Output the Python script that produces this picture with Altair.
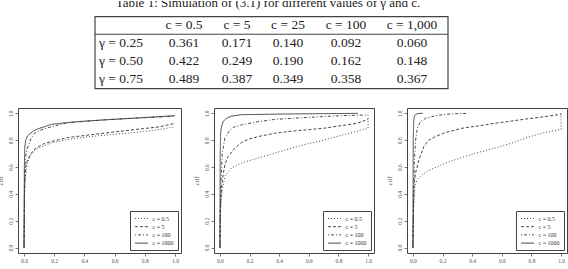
import altair as alt
import pandas as pd

# ---------------- table values ----------------
caption = "Table 1: Simulation of (3.1) for different values of γ and c."
col_labels = ["", "c = 0.5", "c = 5", "c = 25", "c = 100", "c = 1,000"]
row_labels = ["γ = 0.25", "γ = 0.50", "γ = 0.75"]
sim_g025 = [0.361, 0.171, 0.140, 0.092, 0.060]
sim_g050 = [0.422, 0.249, 0.190, 0.162, 0.148]
sim_g075 = [0.489, 0.387, 0.349, 0.358, 0.367]

# ---------------- cdf curves ----------------
series = ["c = 0.5", "c = 5", "c = 100", "c = 1000"]

# left panel
p1_x_05 = [0, 0.003, 0.006, 0.011, 0.022, 0.045, 0.067, 0.10, 0.134, 0.18, 0.29, 0.40, 0.51, 0.74, 0.90, 1.0]
p1_y_05 = [0, 0.38, 0.48, 0.55, 0.63, 0.69, 0.72, 0.745, 0.76, 0.78, 0.805, 0.822, 0.835, 0.858, 0.88, 0.90]
p1_x_5 = [0, 0.003, 0.006, 0.011, 0.022, 0.045, 0.067, 0.10, 0.134, 0.18, 0.29, 0.40, 0.51, 0.74, 0.90, 1.0]
p1_y_5 = [0, 0.40, 0.52, 0.60, 0.65, 0.70, 0.73, 0.755, 0.775, 0.79, 0.82, 0.835, 0.85, 0.88, 0.90, 0.926]
p1_x_100 = [0, 0.003, 0.006, 0.011, 0.022, 0.045, 0.067, 0.10, 0.134, 0.18, 0.29, 0.40, 0.51, 0.74, 1.0]
p1_y_100 = [0, 0.45, 0.60, 0.68, 0.74, 0.81, 0.85, 0.87, 0.885, 0.90, 0.93, 0.94, 0.95, 0.965, 0.978]
p1_x_1000 = [0, 0.002, 0.005, 0.011, 0.022, 0.045, 0.067, 0.10, 0.134, 0.18, 0.29, 0.40, 0.51, 0.74, 1.0]
p1_y_1000 = [0, 0.60, 0.75, 0.80, 0.83, 0.855, 0.872, 0.888, 0.90, 0.918, 0.932, 0.942, 0.95, 0.965, 0.983]

# middle panel
p2_x_05 = [0, 0.003, 0.007, 0.016, 0.033, 0.078, 0.145, 0.257, 0.37, 0.48, 0.59, 0.70, 0.815, 1.0, 1.0]
p2_y_05 = [0, 0.25, 0.33, 0.43, 0.53, 0.593, 0.63, 0.667, 0.704, 0.74, 0.773, 0.80, 0.835, 0.889, 0.985]
p2_x_5 = [0, 0.003, 0.007, 0.016, 0.033, 0.056, 0.10, 0.145, 0.20, 0.257, 0.37, 0.48, 0.70, 0.926, 1.0]
p2_y_5 = [0, 0.28, 0.38, 0.506, 0.617, 0.68, 0.74, 0.783, 0.81, 0.827, 0.852, 0.867, 0.889, 0.926, 0.955]
p2_x_100 = [0, 0.003, 0.007, 0.016, 0.033, 0.067, 0.10, 0.145, 0.257, 0.37, 0.59, 0.815, 1.0]
p2_y_100 = [0, 0.35, 0.50, 0.70, 0.815, 0.877, 0.90, 0.914, 0.938, 0.955, 0.97, 0.983, 0.988]
p2_x_1000 = [0, 0.002, 0.005, 0.01, 0.022, 0.045, 0.078, 0.145, 0.30, 0.50, 0.70, 0.93]
p2_y_1000 = [0, 0.70, 0.86, 0.90, 0.94, 0.963, 0.98, 0.99, 0.993, 0.996, 0.998, 1.0]

# right panel
p3_x_05 = [0, 0.004, 0.013, 0.029, 0.0625, 0.107, 0.219, 0.33, 0.44, 0.55, 0.665, 0.777, 0.888, 1.0, 1.0]
p3_y_05 = [0, 0.30, 0.457, 0.506, 0.543, 0.575, 0.63, 0.672, 0.709, 0.741, 0.778, 0.822, 0.857, 0.881, 1.0]
p3_x_5 = [0, 0.004, 0.0067, 0.018, 0.04, 0.074, 0.107, 0.163, 0.219, 0.33, 0.44, 0.55, 0.665, 0.777, 0.888, 1.0]
p3_y_5 = [0, 0.30, 0.457, 0.556, 0.654, 0.753, 0.802, 0.832, 0.857, 0.889, 0.906, 0.926, 0.943, 0.96, 0.975, 0.993]
p3_x_100 = [0, 0.0045, 0.009, 0.018, 0.029, 0.051, 0.085, 0.152, 0.219, 0.30, 0.37]
p3_y_100 = [0, 0.38, 0.63, 0.80, 0.89, 0.938, 0.963, 0.983, 0.993, 0.998, 1.0]
p3_x_1000 = [0, 0.002, 0.005, 0.009, 0.013, 0.02, 0.03, 0.045, 0.067]
p3_y_1000 = [0, 0.80, 0.94, 0.97, 0.985, 0.993, 0.998, 1.0, 1.0]

axis_ticks = [0.0, 0.2, 0.4, 0.6, 0.8, 1.0]
dash_styles = [[1, 2], [3, 2], [1, 2, 3, 2], [1, 0]]

SERIF = "Liberation Serif"
INK = "#333333"


def curves_frame(pairs):
    rows = []
    for name, (xs, ys) in zip(series, pairs):
        for i, (xv, yv) in enumerate(zip(xs, ys)):
            rows.append({"series": name, "i": i, "x": xv, "y": yv})
    return pd.DataFrame(rows)


def panel(pairs, width):
    df = curves_frame(pairs)
    return alt.Chart(df).mark_line(color=INK, strokeWidth=0.9).encode(
        x=alt.X("x:Q",
                scale=alt.Scale(domain=[-0.04, 1.04], nice=False, zero=False),
                axis=alt.Axis(values=axis_ticks, format=".1f", title="")),
        y=alt.Y("y:Q",
                scale=alt.Scale(domain=[-0.04, 1.04], nice=False, zero=False),
                axis=alt.Axis(values=axis_ticks, format=".1f", title="cdf",
                              labelAngle=270, labelAlign="center",
                              labelBaseline="bottom")),
        strokeDash=alt.StrokeDash("series:N",
                                  scale=alt.Scale(domain=series, range=dash_styles),
                                  legend=alt.Legend(title=None)),
        order=alt.Order("i:Q"),
    ).properties(width=width, height=145)


p1 = panel([(p1_x_05, p1_y_05), (p1_x_5, p1_y_5), (p1_x_100, p1_y_100), (p1_x_1000, p1_y_1000)], 163)
p2 = panel([(p2_x_05, p2_y_05), (p2_x_5, p2_y_5), (p2_x_100, p2_y_100), (p2_x_1000, p2_y_1000)], 160)
p3 = panel([(p3_x_05, p3_y_05), (p3_x_5, p3_y_5), (p3_x_100, p3_y_100), (p3_x_1000, p3_y_1000)], 160)

panels = alt.hconcat(p1, p2, p3, spacing=33, bounds="flush") \
    .resolve_scale(strokeDash="independent") \
    .resolve_legend(strokeDash="independent")

# ---------------- table ----------------
row_keys = ["head", "g025", "g050", "g075"]
cells = []
for j, lab in enumerate(col_labels):
    cells.append({"row": "head", "col": j, "txt": lab})
for key, lab, vals in zip(row_keys[1:], row_labels, [sim_g025, sim_g050, sim_g075]):
    cells.append({"row": key, "col": 0, "txt": lab})
    for j, v in enumerate(vals, start=1):
        cells.append({"row": key, "col": j, "txt": f"{v:.3f}"})
cells = pd.DataFrame(cells)

col_x = [103, 166, 219, 270, 328, 394]
row_scale = alt.Scale(domain=row_keys, range=[24, 77.7], padding=0)

text_layers = []
for j, cx in enumerate(col_x):
    text_layers.append(
        alt.Chart(cells).transform_filter(alt.datum.col == j).mark_text(
            font=SERIF, fontSize=13.5, color="#222222", baseline="middle"
        ).encode(
            x=alt.value(cx),
            y=alt.Y("row:N", scale=row_scale, axis=None),
            text="txt:N",
        )
    )

one = pd.DataFrame({"k": [0]})
frame = alt.Chart(one).mark_rect(fillOpacity=0, stroke="#444444", strokeWidth=1.2).encode(
    x=alt.value(77), x2=alt.value(430), y=alt.value(15.7), y2=alt.value(87.7)
)
head_rule = alt.Chart(one).mark_rule(color="#444444", strokeWidth=1.1).encode(
    x=alt.value(77), x2=alt.value(430), y=alt.value(33.3)
)
title = alt.Chart(one).mark_text(
    font=SERIF, fontSize=13, color="#222222", baseline="alphabetic", clip=True
).encode(x=alt.value(250), y=alt.value(5.5), text=alt.value(caption))

table = alt.layer(title, frame, head_rule, *text_layers).properties(
    width=549, height=95, view=alt.ViewBackground(stroke="transparent")
)

chart = alt.vconcat(table, panels, spacing=12, bounds="flush").properties(
    padding={"left": -5, "top": 0, "right": 0, "bottom": 0}
).configure_view(
    stroke="#444444", strokeWidth=1
).configure_axis(
    domain=False, grid=False,
    labelFont=SERIF, labelFontSize=5.5, labelColor="#555555", labelPadding=2,
    tickColor="#555555", tickSize=3, tickWidth=0.8,
    titleFont=SERIF, titleFontSize=7, titleFontWeight="normal",
    titleColor="#555555", titlePadding=5,
).configure_legend(
    orient="bottom-right", offset=3, padding=3.5,
    strokeColor="#444444", fillColor="white", cornerRadius=0,
    symbolType="M-2,0H2", symbolSize=42, symbolStrokeWidth=0.9,
    symbolStrokeColor=INK, symbolOffset=4,
    labelFont=SERIF, labelFontSize=6, labelColor=INK, labelOffset=7,
    rowPadding=1.2,
)

chart.save("out.html", embed_options={"renderer": "svg", "actions": False})
